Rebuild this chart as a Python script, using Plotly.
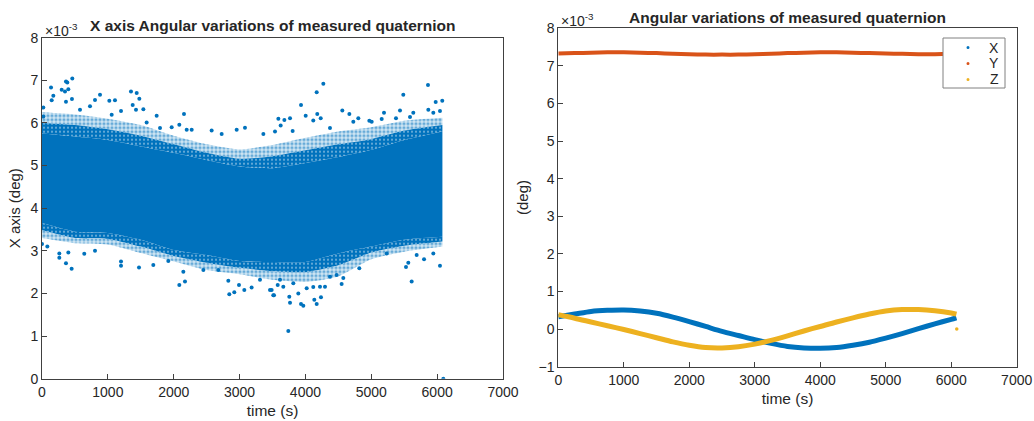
import plotly.graph_objects as go

# ---------------- Data (values in units of 1e-3 deg) ----------------
# Left panel: dense scatter cloud, described by its solid core, a dense fringe and a sparse fringe
band_t    = [0, 500, 1000, 1500, 2000, 2500, 3000, 3500, 4000, 4500, 5000, 5500, 6080]
core_hi   = [5.75, 5.68, 5.60, 5.45, 5.30, 5.13, 4.98, 4.94, 5.06, 5.20, 5.37, 5.60, 5.80]
core_lo   = [3.65, 3.45, 3.42, 3.26, 3.02, 2.90, 2.76, 2.74, 2.74, 2.94, 3.10, 3.26, 3.33]
mid_hi    = [6.00, 5.95, 5.85, 5.70, 5.50, 5.30, 5.16, 5.22, 5.36, 5.50, 5.62, 5.82, 5.95]
mid_lo    = [3.48, 3.30, 3.28, 3.10, 2.88, 2.72, 2.60, 2.52, 2.50, 2.66, 2.96, 3.12, 3.22]
fringe_hi = [6.25, 6.20, 6.10, 5.95, 5.70, 5.50, 5.38, 5.48, 5.65, 5.80, 5.90, 6.05, 6.12]
fringe_lo = [3.30, 3.18, 3.15, 2.95, 2.75, 2.55, 2.45, 2.32, 2.27, 2.40, 2.80, 2.98, 3.10]

# individual outlying samples
out_t = [460, 364, 384, 299, 349, 400, 137, 172, 147, 364, 455, 881, 805, 1022, 1108,
         1351, 1438, 1478, 1377, 1427, 1539, 1200, 2156, 2576, 2728, 2956, 3082, 3361,
         3589, 2197, 2273, 1792, 20, 20, 577, 729, 1058, 1589, 1741, 1969, 2085,
         4272, 4171, 3933, 5861, 5486, 6078, 5978, 5866, 5942, 6043, 5436, 5638, 5193,
         4560, 4667, 4180, 4004, 3680, 3766, 3538, 3624, 3806, 4119, 4232, 4803, 4970,
         5006, 5158, 5375, 5588, 4727, 4373,
         0, 81, 263, 263, 364, 450, 400, 642, 805, 1200, 1200, 1473, 1690, 1918, 2085,
         2171, 2146, 2450, 2677, 2829, 2844, 2920, 2991, 3072, 3183, 3310, 3512, 3462,
         3579, 3740, 3766, 3933, 3968, 4171, 4135, 4236, 3523, 3755, 3892, 4019, 4119,
         4221, 4297, 4550, 4575, 4818, 5613, 5527, 6043, 5801, 5562, 6094, 3614, 3816,
         3664, 4373, 4474, 3487, 5234, 5942, 5689]
out_v = [7.04, 6.97, 6.95, 6.78, 6.74, 6.79, 6.83, 6.64, 6.53, 6.50, 6.56, 6.66, 6.54, 6.52, 6.53,
         6.74, 6.70, 6.57, 6.42, 6.31, 6.32, 6.28, 6.21, 5.82, 5.74, 5.84, 5.89, 5.74,
         6.10, 5.84, 5.84, 5.88, 6.36, 6.15, 6.31, 6.39, 6.19, 6.01, 6.17, 5.90, 5.96,
         6.92, 6.72, 6.42, 6.89, 6.66, 6.52, 6.49, 6.31, 6.24, 6.28, 6.29, 6.24, 6.24,
         6.29, 6.21, 6.21, 6.17, 6.07, 6.11, 5.80, 5.94, 5.81, 6.06, 6.11, 6.11, 6.05,
         6.03, 6.09, 6.11, 6.14, 6.03, 5.88,
         3.16, 3.10, 2.94, 2.84, 2.71, 2.58, 2.96, 2.93, 3.00, 2.75, 2.65, 2.61, 2.67, 2.76, 2.20,
         2.28, 2.51, 2.55, 2.55, 2.30, 1.98, 2.03, 2.20, 2.08, 2.14, 2.32, 1.96, 2.08,
         2.20, 1.12, 1.78, 1.75, 1.71, 1.75, 1.85, 1.91, 1.96, 1.92, 2.00, 2.12, 2.15,
         2.16, 2.16, 2.22, 2.36, 2.59, 2.28, 2.62, 2.65, 2.80, 2.72, 0.00, 2.32, 2.24,
         2.16, 2.39, 2.43, 2.08, 2.94, 2.94, 2.90]

# Right panel: three angular components
time_s = [0, 250, 500, 750, 1000, 1250, 1500, 1750, 2000, 2250, 2500, 2750, 3000,
          3250, 3500, 3750, 4000, 4250, 4500, 4750, 5000, 5250, 5500, 5750, 6000, 6080]
x_ang = [0.33, 0.40, 0.47, 0.50, 0.51, 0.48, 0.42, 0.32, 0.20, 0.07, -0.06, -0.17, -0.28,
         -0.38, -0.46, -0.50, -0.51, -0.49, -0.43, -0.35, -0.24, -0.12, 0.01, 0.14, 0.26, 0.30]
y_ang = [7.33, 7.34, 7.35, 7.36, 7.36, 7.35, 7.34, 7.32, 7.31, 7.30, 7.30, 7.30, 7.31,
         7.32, 7.34, 7.35, 7.36, 7.36, 7.35, 7.34, 7.33, 7.32, 7.31, 7.31, 7.32, 7.32]
z_ang = [0.38, 0.29, 0.19, 0.09, -0.01, -0.12, -0.23, -0.34, -0.43, -0.49, -0.50, -0.47, -0.40,
         -0.30, -0.18, -0.05, 0.07, 0.19, 0.30, 0.40, 0.48, 0.52, 0.52, 0.49, 0.43, 0.40]
z_stray_t = [6085]
z_stray_v = [0.0]

x_ticks = [0, 1000, 2000, 3000, 4000, 5000, 6000, 7000]
left_y_ticks = [0, 1, 2, 3, 4, 5, 6, 7, 8]
right_y_ticks = [-1, 0, 1, 2, 3, 4, 5, 6, 7, 8]
series_names = ["X", "Y", "Z"]

# ---------------- Styling ----------------
W, H = 1034, 421
BLUE, ORANGE, YELLOW = "#0072BD", "#D95319", "#EDB120"
series_colors = [BLUE, ORANGE, YELLOW]
TXT = "#262626"
AX = "#404040"
FONT = "Liberation Sans, Arial, Helvetica, sans-serif"

def px_x(p): return p / W
def px_y(p): return 1 - p / H

outer_pat = dict(shape=".", fgcolor=BLUE, bgcolor="rgba(0,114,189,0.18)", size=4, solidity=0.5)
inner_pat = dict(shape=".", fgcolor="white", bgcolor=BLUE, size=4, solidity=0.2)
edge = dict(width=0, shape="spline", smoothing=0.6)

fig = go.Figure()
layers = [
    (fringe_lo, None, None),
    (mid_lo, "rgba(0,114,189,0.5)", outer_pat),
    (core_lo, BLUE, inner_pat),
    (core_hi, BLUE, None),
    (mid_hi, BLUE, inner_pat),
    (fringe_hi, "rgba(0,114,189,0.5)", outer_pat),
]
for vals, fc, pat in layers:
    kw = dict(x=band_t, y=vals, mode="lines", line=edge, hoverinfo="skip",
              showlegend=False, xaxis="x", yaxis="y")
    if fc is not None:
        kw.update(fill="tonexty", fillcolor=fc)
        if pat is not None:
            kw.update(fillpattern=pat)
    fig.add_trace(go.Scatter(**kw))

fig.add_trace(go.Scatter(x=out_t, y=out_v, mode="markers",
                         marker=dict(color=BLUE, size=4, line=dict(width=0)),
                         showlegend=False, xaxis="x", yaxis="y"))

# right: component lines
for name, vals, col, w in zip(series_names, [x_ang, y_ang, z_ang], series_colors, [5, 4, 5]):
    fig.add_trace(go.Scatter(x=time_s, y=vals, mode="lines", name=name,
                             line=dict(color=col, width=w, shape="spline", smoothing=0.8),
                             showlegend=False, xaxis="x2", yaxis="y2"))
fig.add_trace(go.Scatter(x=z_stray_t, y=z_stray_v, mode="markers",
                         marker=dict(color=YELLOW, size=3.5), showlegend=False,
                         xaxis="x2", yaxis="y2"))

axis_common = dict(showline=True, linecolor=AX, linewidth=1, mirror=True, ticks="inside",
                   ticklen=5, tickcolor=AX, showgrid=False, zeroline=False, automargin=False,
                   tickfont=dict(family=FONT, size=14, color=TXT))
xt_font = dict(family=FONT, size=15.5, color=TXT)
yt_font = dict(family=FONT, size=15, color=TXT)

fig.update_layout(
    width=W, height=H, margin=dict(l=0, r=0, t=0, b=0),
    paper_bgcolor="white", plot_bgcolor="white",
    font=dict(family=FONT, color=TXT),
    xaxis=dict(domain=[px_x(42), px_x(503)], range=[0, 7000], tickvals=x_ticks,
               title=dict(text="time (s)", font=xt_font, standoff=6), **axis_common),
    yaxis=dict(domain=[px_y(378.7), px_y(37.7)], range=[0, 8], tickvals=left_y_ticks,
               title=dict(text="X axis (deg)", font=yt_font, standoff=6), **axis_common),
    xaxis2=dict(domain=[px_x(558.3), px_x(1016.7)], range=[0, 7000], tickvals=x_ticks,
                anchor="y2", title=dict(text="time (s)", font=xt_font, standoff=6), **axis_common),
    yaxis2=dict(domain=[px_y(366.7), px_y(28.3)], range=[-1, 8], tickvals=right_y_ticks,
                anchor="x2", title=dict(text="(deg)", font=yt_font, standoff=6), **axis_common),
    showlegend=False,
)

# hand-built legend box (MATLAB style: small dots, labels to the right)
leg_x0, leg_x1, leg_y0, leg_y1 = 943, 1005, 38, 88
leg_rows = [47.5, 63.5, 79.5]
shapes = [dict(type="rect", xref="paper", yref="paper",
               x0=px_x(leg_x0), x1=px_x(leg_x1), y0=px_y(leg_y1), y1=px_y(leg_y0),
               line=dict(color="#808080", width=1), fillcolor="white", layer="above")]
for row, col in zip(leg_rows, series_colors):
    shapes.append(dict(type="circle", xref="paper", yref="paper",
                       x0=px_x(966.5), x1=px_x(969.5), y0=px_y(row + 1.5), y1=px_y(row - 1.5),
                       line=dict(width=0), fillcolor=col, layer="above"))
fig.update_layout(shapes=shapes)

ann = [
    dict(x=px_x(273), y=px_y(26), text="<b>X axis Angular variations of measured quaternion</b>",
         font=dict(size=15.5)),
    dict(x=px_x(787), y=px_y(17), text="<b>Angular variations of measured quaternion</b>",
         font=dict(size=15.5)),
    dict(x=px_x(43), y=px_y(30), text="×10<sup>-3</sup>", xanchor="left", font=dict(size=14)),
    dict(x=px_x(559), y=px_y(20), text="×10<sup>-3</sup>", xanchor="left", font=dict(size=14)),
]
for name, row in zip(series_names, leg_rows):
    ann.append(dict(x=px_x(1001), y=px_y(row), text=name, xanchor="right", font=dict(size=14)))
for a in ann:
    a.update(xref="paper", yref="paper", showarrow=False)
    a.setdefault("xanchor", "center")
    a["yanchor"] = "middle"
    a["font"] = dict(family=FONT, color=TXT, **a["font"])
fig.update_layout(annotations=ann)

fig.write_html("out.html")
